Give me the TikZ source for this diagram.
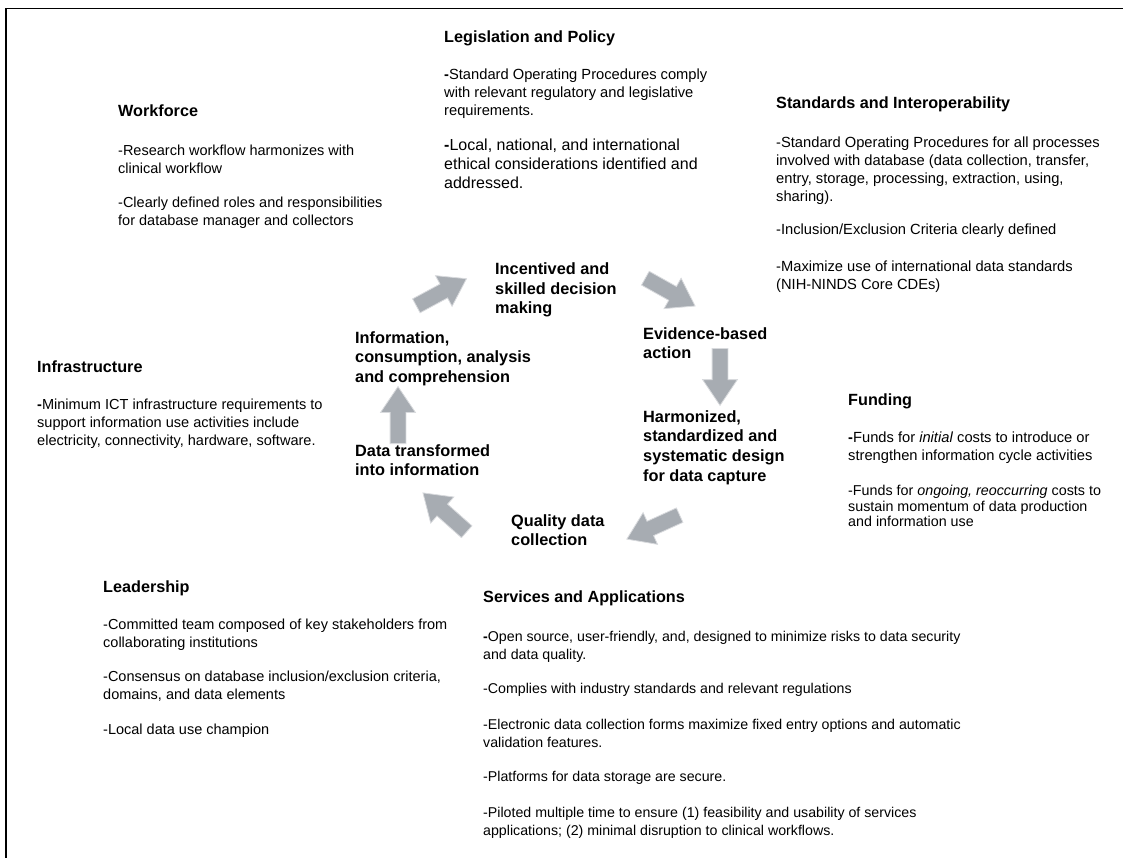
\documentclass[tikz,border=0pt]{standalone}
\usepackage{fontspec}
\setmainfont{Liberation Sans}
\usepackage{tikz}
\usetikzlibrary{shapes.arrows}

\definecolor{arrowgray}{HTML}{A7ACB2}
\definecolor{arrowrim}{HTML}{D8DADD}

\tikzset{
  head/.style={anchor=north west,inner sep=0pt,font=\bfseries\fontsize{16.2}{19}\selectfont},
  body/.style={anchor=north west,inner sep=0pt,align=left,font=\fontsize{#1}{18}\selectfont},
  body/.default=14.5,
  stage/.style={anchor=north west,inner sep=0pt,align=left,font=\bfseries\fontsize{16.3}{19.7}\selectfont},
  cycarrow/.style={single arrow,fill=arrowgray,draw=arrowrim,line width=0.8pt,
    inner xsep=0pt,inner ysep=7.5pt,minimum width=0pt,minimum height=#1,
    single arrow head extend=9.5pt,single arrow tip angle=68,anchor=tail},
  cycarrow/.default=57pt
}

\begin{document}
\begin{tikzpicture}[x=1pt,y=-1pt]
\useasboundingbox (0,0) rectangle (1123,858);
\draw[line width=1.6pt] (6,858) -- (6,8.5) -- (1123,8.5);

\node[cycarrow,rotate=28.4] (a1) at (416,306) {};
\node[cycarrow,rotate=-29.2] (a2) at (645,278) {};
\node[cycarrow,rotate=-90] (a3) at (720,348) {};
\node[cycarrow=58pt,rotate=204.4] (a4) at (680,515) {};
\node[cycarrow=58.5pt,rotate=138.4] (a5) at (467,532) {};
\node[cycarrow,rotate=90] (a6) at (398,444) {};

\node[stage] (incent) at (495,262.5) {Incentived and\\skilled decision\\making};
\node[stage] (evid) at (643,327) {Evidence-based\\action};
\node[stage] (harm) at (643,410) {Harmonized,\\standardized and\\systematic design\\for data capture};
\node[stage] (qual) at (511,514) {Quality data\\collection};
\node[stage] (transf) at (355,444) {Data transformed\\into information};
\node[stage] (info) at (355,331) {Information,\\consumption, analysis\\and comprehension};

\node[head] (leg) at (444,31) {Legislation and Policy};
\node[body=14.7] (leg1) at (444,68.7) {\textbf{-}Standard Operating Procedures comply\\with relevant regulatory and legislative\\requirements.};
\node[anchor=north west,inner sep=0pt,align=left,font=\fontsize{16}{19}\selectfont] (leg2) at (444,139) {\textbf{-}Local, national, and international\\ethical considerations identified and\\addressed.};

\node[head] (work) at (118,105) {Workforce};
\node[body=14.5] (work1) at (118,145) {-Research workflow harmonizes with\\clinical workflow};
\node[body=14.5] (work2) at (118,197) {-Clearly defined roles and responsibilities\\for database manager and collectors};

\node[head] (std) at (776,97) {Standards and Interoperability};
\node[body=14.7] (std1) at (776,136.7) {-Standard Operating Procedures for all processes\\involved with database (data collection, transfer,\\entry, storage, processing, extraction, using,\\sharing).};
\node[body=14.7] (std2) at (776,223.7) {-Inclusion/Exclusion Criteria clearly defined};
\node[body=14.7] (std3) at (776,260.7) {-Maximize use of international data standards\\(NIH-NINDS Core CDEs)};

\node[head] (infra) at (37,361) {Infrastructure};
\node[body=14.55] (infra1) at (37,399) {\textbf{-}Minimum ICT infrastructure requirements to\\support information use activities include\\electricity, connectivity, hardware, software.};

\node[head] (fund) at (848,394) {Funding};
\node[body=14.7] (fund1) at (848,432) {\textbf{-}Funds for \textit{initial} costs to introduce or\\strengthen information cycle activities};
\node[anchor=north west,inner sep=0pt,align=left,font=\fontsize{14.3}{15.5}\selectfont] (fund2) at (848,485) {-Funds for \textit{ongoing, reoccurring} costs to\\sustain momentum of data production\\and information use};

\node[head] (lead) at (103,581) {Leadership};
\node[body] (lead1) at (103,619) {-Committed team composed of key stakeholders from\\collaborating institutions};
\node[body] (lead2) at (103,671) {-Consensus on database inclusion/exclusion criteria,\\domains, and data elements};
\node[body] (lead3) at (103,724) {-Local data use champion};

\node[head] (serv) at (483,591) {Services and Applications};
\node[body=14.2] (serv1) at (483,631) {\textbf{-}Open source, user-friendly, and, designed to minimize risks to data security\\and data quality.};
\node[body=14.2] (serv2) at (483,683) {-Complies with industry standards and relevant regulations};
\node[body=14.2] (serv3) at (483,719) {-Electronic data collection forms maximize fixed entry options and automatic\\validation features.};
\node[body=14.2] (serv4) at (483,771) {-Platforms for data storage are secure.};
\node[body=14.2] (serv5) at (483,807) {-Piloted multiple time to ensure (1) feasibility and usability of services\\applications; (2) minimal disruption to clinical workflows.};
\end{tikzpicture}
\end{document}
